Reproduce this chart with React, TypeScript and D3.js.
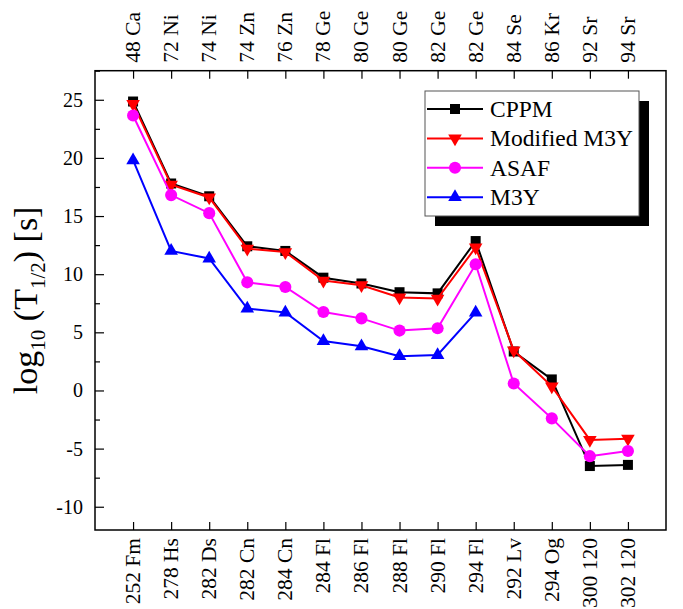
import React, { useEffect, useRef } from 'react';
import * as d3 from 'd3';

const width = 683;
const height = 609;
const frame = { left: 95, right: 666, top: 70.7, bottom: 530 };

// parent nuclei (bottom axis) and emitted clusters (top axis)
const parents = ['252 Fm', '278 Hs', '282 Ds', '282 Cn', '284 Cn', '284 Fl', '286 Fl', '288 Fl', '290 Fl', '294 Fl', '292 Lv', '294 Og', '300 120', '302 120'];
const clusters = ['48 Ca', '72 Ni', '74 Ni', '74 Zn', '76 Zn', '78 Ge', '80 Ge', '80 Ge', '82 Ge', '82 Ge', '84 Se', '86 Kr', '92 Sr', '94 Sr'];

const cppm = [24.85, 17.8, 16.7, 12.4, 12.0, 9.7, 9.2, 8.45, 8.35, 12.85, 3.35, 0.95, -6.5, -6.4];
const modM3y = [24.65, 17.7, 16.6, 12.2, 11.9, 9.45, 9.05, 8.0, 7.9, 12.3, 3.45, 0.35, -4.25, -4.15];
const asaf = [23.65, 16.8, 15.25, 9.3, 8.9, 6.75, 6.2, 5.15, 5.35, 10.85, 0.6, -2.4, -5.65, -5.2];
const m3y = [19.8, 12.0, 11.35, 7.05, 6.7, 4.25, 3.8, 2.95, 3.05, 6.7];

const yTicks = [-10, -5, 0, 5, 10, 15, 20, 25];
const yMinorTicks = [-7.5, -2.5, 2.5, 7.5, 12.5, 17.5, 22.5, 27.5];

const series = [
  { name: 'CPPM', values: cppm, color: '#000000', symbol: d3.symbolSquare, size: 100, rot: 0 },
  { name: 'Modified M3Y', values: modM3y, color: '#ff0000', symbol: d3.symbolTriangle, size: 80, rot: 180 },
  { name: 'ASAF', values: asaf, color: '#ff00ff', symbol: d3.symbolCircle, size: 115, rot: 0 },
  { name: 'M3Y', values: m3y, color: '#0000ff', symbol: d3.symbolTriangle, size: 80, rot: 0 },
];

const x = d3.scaleLinear().domain([0, 15]).range([frame.left, frame.right]);
const y = d3.scaleLinear().domain([-12, 27.5]).range([frame.bottom, frame.top]);

const font = '"Liberation Serif", "Times New Roman", serif';

export default function App() {
  const ref = useRef<SVGSVGElement>(null);

  useEffect(() => {
    const svg = d3.select(ref.current);
    svg.selectAll('*').remove();

    const idx = parents.map((d, i) => i + 1);

    // frame
    svg.append('rect')
      .attr('x', frame.left).attr('y', frame.top)
      .attr('width', frame.right - frame.left).attr('height', frame.bottom - frame.top)
      .attr('fill', 'none').attr('stroke', '#000').attr('stroke-width', 1.5);

    // left axis, ticks inward
    const yg = svg.append('g').attr('transform', `translate(${frame.left},0)`)
      .call(d3.axisRight(y).tickValues(yTicks).tickSize(9).tickFormat(() => ''));
    yg.select('.domain').remove();
    yg.selectAll('line').attr('stroke-width', 1.2);
    const ymg = svg.append('g').attr('transform', `translate(${frame.left},0)`)
      .call(d3.axisRight(y).tickValues(yMinorTicks).tickSize(5).tickFormat(() => ''));
    ymg.select('.domain').remove();
    ymg.selectAll('line').attr('stroke-width', 1.2);

    svg.append('g').selectAll('text')
      .data(yTicks)
      .enter().append('text')
      .attr('x', 83).attr('y', d => y(d))
      .attr('text-anchor', 'end').attr('dominant-baseline', 'central')
      .style('font-family', font).style('font-size', '20px')
      .text(d => d);

    // bottom axis
    const xb = svg.append('g').attr('transform', `translate(0,${frame.bottom})`)
      .call(d3.axisTop(x).tickValues(idx).tickSize(8).tickFormat(() => ''));
    xb.select('.domain').remove();
    xb.selectAll('line').attr('stroke-width', 1.2);
    svg.append('g').selectAll('text')
      .data(parents)
      .enter().append('text')
      .attr('transform', (d, i) => `translate(${x(i + 1)},${frame.bottom + 8}) rotate(-90)`)
      .attr('text-anchor', 'end').attr('dominant-baseline', 'central')
      .style('font-family', font).style('font-size', '21.5px')
      .text(d => d);

    // top axis
    const xt = svg.append('g').attr('transform', `translate(0,${frame.top})`)
      .call(d3.axisBottom(x).tickValues(idx).tickSize(8).tickFormat(() => ''));
    xt.select('.domain').remove();
    xt.selectAll('line').attr('stroke-width', 1.2);
    svg.append('g').selectAll('text')
      .data(clusters)
      .enter().append('text')
      .attr('transform', (d, i) => `translate(${x(i + 1)},${frame.top - 8}) rotate(-90)`)
      .attr('text-anchor', 'start').attr('dominant-baseline', 'central')
      .style('font-family', font).style('font-size', '21.5px')
      .text(d => d);

    // y title
    const title = svg.append('text')
      .attr('transform', `translate(37,${(frame.top + frame.bottom) / 2}) rotate(-90)`)
      .attr('text-anchor', 'middle')
      .style('font-family', font).style('font-size', '34px');
    title.append('tspan').text('log');
    title.append('tspan').attr('dy', 8).style('font-size', '21px').text('10');
    title.append('tspan').attr('dy', -8).text(' (T');
    title.append('tspan').attr('dy', 8).style('font-size', '21px').text('1/2');
    title.append('tspan').attr('dy', -8).text(') [s]');

    // series
    const line = d3.line<number>()
      .x((d, i) => x(i + 1))
      .y(d => y(d));

    series.forEach(s => {
      const g = svg.append('g');
      g.append('path')
        .attr('fill', 'none')
        .attr('stroke', s.color)
        .attr('stroke-width', 2)
        .attr('d', line(s.values));
      g.selectAll('path.mk')
        .data(s.values)
        .enter().append('path')
        .attr('class', 'mk')
        .attr('transform', (d, i) => `translate(${x(i + 1)},${y(d)}) rotate(${s.rot})`)
        .attr('d', d3.symbol().type(s.symbol).size(s.size)())
        .attr('fill', s.color);
    });

    // legend with drop shadow
    const lg = svg.append('g');
    lg.append('rect').attr('x', 435).attr('y', 101).attr('width', 214).attr('height', 125).attr('fill', '#000');
    lg.append('rect').attr('x', 425).attr('y', 91).attr('width', 214).attr('height', 125)
      .attr('fill', '#fff').attr('stroke', '#555').attr('stroke-width', 1);
    series.forEach((s, i) => {
      const yy = 109 + i * 29.4;
      lg.append('line').attr('x1', 427).attr('x2', 483).attr('y1', yy).attr('y2', yy)
        .attr('stroke', s.color).attr('stroke-width', 2);
      lg.append('path')
        .attr('transform', `translate(455,${yy}) rotate(${s.rot})`)
        .attr('d', d3.symbol().type(s.symbol).size(s.size)())
        .attr('fill', s.color);
      lg.append('text')
        .attr('x', 490).attr('y', yy)
        .attr('dominant-baseline', 'central')
        .style('font-family', font).style('font-size', '23.5px')
        .text(s.name);
    });
  }, []);

  return (
    <svg ref={ref} width={width} height={height}
      style={{ position: 'absolute', left: 0, top: 0, background: '#fff' }} />
  );
}
